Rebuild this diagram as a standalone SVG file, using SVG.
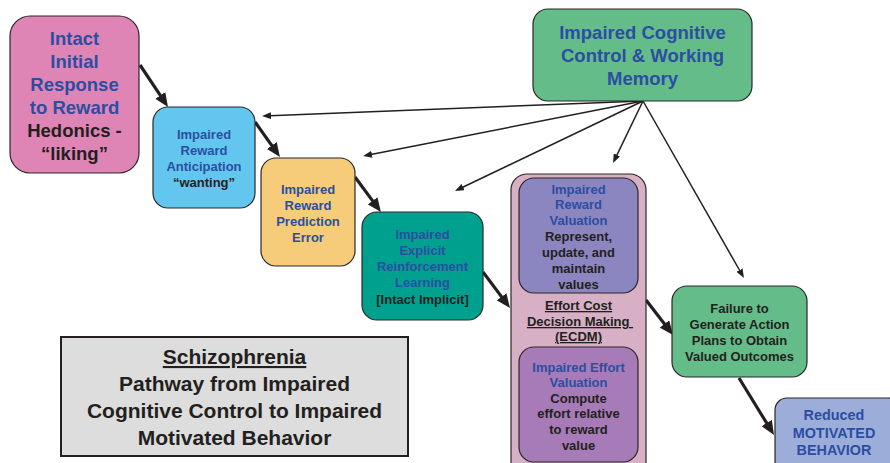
<svg xmlns="http://www.w3.org/2000/svg" width="890" height="463" viewBox="0 0 890 463">
  <style>
    .box { stroke: #2a2626; stroke-width: 1.2; }
    text { font-family: "Liberation Sans", Arial, sans-serif; font-weight: bold; text-anchor: middle; fill: #231f20; }
    .b { fill: #2b4ea2; }
    .thick { stroke: #231f20; stroke-width: 3.2; fill: none; }
    .thin { stroke: #231f20; stroke-width: 1.5; fill: none; }
    .u { text-decoration: underline; }
  </style>
  <defs>
    <marker id="bigHead" viewBox="0 0 14 12" refX="1" refY="6" markerWidth="14" markerHeight="12" markerUnits="userSpaceOnUse" orient="auto">
      <path d="M0,0 L14,6 L0,12 z" fill="#231f20"/>
    </marker>
    <marker id="smallHead" viewBox="0 0 9 7" refX="1" refY="3.5" markerWidth="9" markerHeight="7" markerUnits="userSpaceOnUse" orient="auto">
      <path d="M0,0 L9,3.5 L0,7 z" fill="#231f20"/>
    </marker>
  </defs>

  <rect width="890" height="463" fill="#ffffff"/>

  <!-- connectors -->
  <g id="connectors">
    <line class="thick" x1="140" y1="65" x2="160.8" y2="96.2" marker-end="url(#bigHead)"/>
    <line class="thick" x1="255" y1="122" x2="272.4" y2="146.4" marker-end="url(#bigHead)"/>
    <line class="thick" x1="355" y1="177" x2="373.2" y2="201.6" marker-end="url(#bigHead)"/>
    <line class="thick" x1="483" y1="272" x2="502.2" y2="297.6" marker-end="url(#bigHead)"/>
    <line class="thick" x1="646" y1="300" x2="665.1" y2="324.7" marker-end="url(#bigHead)"/>
    <line class="thick" x1="739" y1="378" x2="767.2" y2="423.9" marker-end="url(#bigHead)"/>
    <line class="thin" x1="643" y1="101" x2="270" y2="115.7" marker-end="url(#smallHead)"/>
    <line class="thin" x1="643" y1="101" x2="370.9" y2="154.5" marker-end="url(#smallHead)"/>
    <line class="thin" x1="643" y1="101" x2="462.2" y2="187.5" marker-end="url(#smallHead)"/>
    <line class="thin" x1="643" y1="101" x2="616.5" y2="155.8" marker-end="url(#smallHead)"/>
    <line class="thin" x1="643" y1="101" x2="740" y2="271" marker-end="url(#smallHead)"/>
  </g>

  <!-- Intact initial response -->
  <g id="intact-response">
    <rect class="box" x="10" y="16" width="129" height="157" rx="20" fill="#de85b5"/>
    <g font-size="18.5">
      <text class="b" x="74.5" y="45">Intact</text>
      <text class="b" x="74.5" y="68">Initial</text>
      <text class="b" x="74.5" y="91">Response</text>
      <text class="b" x="74.5" y="114">to Reward</text>
      <text x="74.5" y="137">Hedonics -</text>
      <text x="74.5" y="160">“liking”</text>
    </g>
  </g>

  <!-- Reward anticipation -->
  <g id="reward-anticipation">
    <rect class="box" x="153" y="107" width="102" height="101" rx="15" fill="#63c6ee"/>
    <g font-size="13">
      <text class="b" x="204" y="139">Impaired</text>
      <text class="b" x="204" y="155">Reward</text>
      <text class="b" x="204" y="171">Anticipation</text>
      <text x="204" y="187">“wanting”</text>
    </g>
  </g>

  <!-- Reward prediction error -->
  <g id="prediction-error">
    <rect class="box" x="261" y="158" width="94" height="108" rx="15" fill="#f6cc7a"/>
    <g font-size="13">
      <text class="b" x="308" y="194">Impaired</text>
      <text class="b" x="308" y="210">Reward</text>
      <text class="b" x="308" y="226">Prediction</text>
      <text class="b" x="308" y="242">Error</text>
    </g>
  </g>

  <!-- Explicit reinforcement learning -->
  <g id="reinforcement-learning">
    <rect class="box" x="362" y="212" width="121" height="108" rx="15" fill="#00a08f"/>
    <g font-size="13">
      <text class="b" x="422.5" y="239">Impaired</text>
      <text class="b" x="422.5" y="255">Explicit</text>
      <text class="b" x="422.5" y="271">Reinforcement</text>
      <text class="b" x="422.5" y="287">Learning</text>
      <text x="422.5" y="304">[Intact Implicit]</text>
    </g>
  </g>

  <!-- Effort cost decision making -->
  <g id="ecdm">
    <rect class="box" x="511" y="174" width="135" height="305" rx="16" fill="#d7b0c5"/>
    <g id="reward-valuation">
      <rect class="box" x="519" y="178" width="119" height="115" rx="15" fill="#8b85c0"/>
      <g font-size="13">
        <text class="b" x="578.5" y="194">Impaired</text>
        <text class="b" x="578.5" y="209">Reward</text>
        <text class="b" x="578.5" y="225">Valuation</text>
        <text x="578.5" y="241">Represent,</text>
        <text x="578.5" y="257">update, and</text>
        <text x="578.5" y="273">maintain</text>
        <text x="578.5" y="289">values</text>
      </g>
    </g>
    <g font-size="13">
      <text class="u" x="578.5" y="310">Effort Cost</text>
      <text class="u" x="580" y="326">Decision Making&#160;</text>
      <text class="u" x="578.5" y="341">(ECDM)</text>
    </g>
    <g id="effort-valuation">
      <rect class="box" x="519" y="347" width="119" height="115" rx="15" fill="#a67bb8"/>
      <g font-size="13">
        <text class="b" x="578.5" y="372">Impaired Effort</text>
        <text class="b" x="578.5" y="387">Valuation</text>
        <text x="578.5" y="403">Compute</text>
        <text x="578.5" y="418">effort relative</text>
        <text x="578.5" y="434">to reward</text>
        <text x="578.5" y="450">value</text>
      </g>
    </g>
  </g>

  <!-- Cognitive control & working memory -->
  <g id="cognitive-control">
    <rect class="box" x="533" y="9" width="219" height="92" rx="15" fill="#64bc89"/>
    <g font-size="18.5">
      <text class="b" x="642.5" y="39">Impaired Cognitive</text>
      <text class="b" x="642.5" y="62">Control &amp; Working</text>
      <text class="b" x="642.5" y="85">Memory</text>
    </g>
  </g>

  <!-- Failure to generate action plans -->
  <g id="action-plans">
    <rect class="box" x="672" y="286" width="135" height="91" rx="15" fill="#64bc89"/>
    <g font-size="13">
      <text x="739.5" y="313">Failure to</text>
      <text x="739.5" y="329">Generate Action</text>
      <text x="739.5" y="345">Plans to Obtain</text>
      <text x="739.5" y="361">Valued Outcomes</text>
    </g>
  </g>

  <!-- Reduced motivated behavior -->
  <g id="reduced-behavior">
    <rect class="box" x="775" y="398" width="125" height="80" rx="12" fill="#9dadd9"/>
    <g font-size="14.4">
      <text class="b" x="834" y="420">Reduced</text>
      <text class="b" x="834" y="438">MOTIVATED</text>
      <text class="b" x="834" y="455">BEHAVIOR</text>
    </g>
  </g>

  <!-- Title panel -->
  <g id="title">
    <rect x="61" y="337" width="347" height="119" fill="#dddddd" stroke="#231f20" stroke-width="2"/>
    <g font-size="21">
      <text class="u" x="234.5" y="364">Schizophrenia</text>
      <text x="234.5" y="391">Pathway from Impaired</text>
      <text x="234.5" y="418">Cognitive Control to Impaired</text>
      <text x="234.5" y="445">Motivated Behavior</text>
    </g>
  </g>
</svg>
